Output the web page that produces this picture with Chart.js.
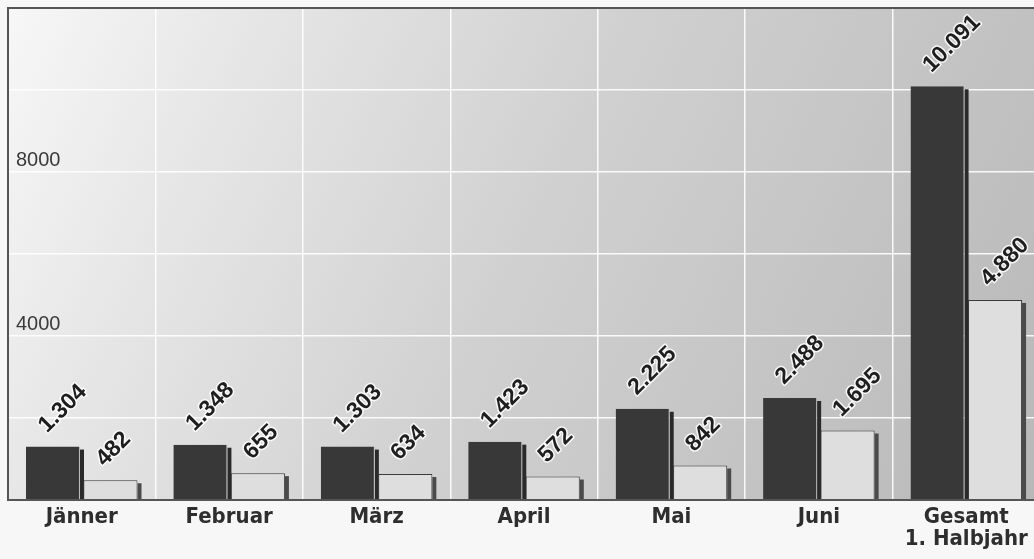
<!DOCTYPE html>
<html>
<head>
<meta charset="utf-8">
<script src="https://cdn.jsdelivr.net/npm/chart.js@4"></script>
<style>
  html, body { margin: 0; padding: 0; background: #f7f7f7; overflow: hidden; }
  #wrap { width: 1034px; height: 559px; overflow: hidden; }
</style>
</head>
<body>
<div id="wrap"><canvas id="grafik" width="1040" height="559"></canvas></div>
<script>
const monate = ['Jänner', 'Februar', 'März', 'April', 'Mai', 'Juni', ['Gesamt', '1. Halbjahr']];
const reiheDunkel = [1304, 1348, 1303, 1423, 2225, 2488, 10091];
const reiheHell = [482, 655, 634, 572, 842, 1695, 4880];
const yMax = 12000;
const ySchritt = 2000;
const yBeschriftet = [4000, 8000];

function tausender(v) { // 1304 -> 1.304
    return String(v).replace(/\B(?=(\d{3})+(?!\d))/g, '.');
}

const hintergrund = {
    id: 'hintergrund',
    beforeDraw(chart) {
        const { ctx, chartArea: a } = chart;
        const g = ctx.createLinearGradient(a.left, a.top, a.right, a.bottom);
        g.addColorStop(0, '#f7f7f7');
        g.addColorStop(0.2, '#e6e6e6');
        g.addColorStop(0.5, '#d0d0d0');
        g.addColorStop(1, '#b8b8b8');
        ctx.save();
        ctx.fillStyle = g;
        ctx.fillRect(a.left, a.top, a.right - a.left, a.bottom - a.top);
        ctx.restore();
    },
    beforeDatasetsDraw(chart) { // schatten rechts neben den balken
        const { ctx } = chart;
        ctx.save();
        chart.data.datasets.forEach((ds, i) => {
            chart.getDatasetMeta(i).data.forEach(bar => {
                const w = bar.width;
                ctx.fillStyle = i === 0 ? '#2a2a2a' : '#4a4a4a';
                ctx.fillRect(bar.x + w / 2, bar.y + 3, 4, bar.base - bar.y - 3);
            });
        });
        ctx.restore();
    },
    afterDatasetsDraw(chart) {
        const { ctx, chartArea: a } = chart;
        ctx.save();
        // rahmen oben, links, unten
        ctx.strokeStyle = '#555';
        ctx.lineWidth = 2;
        ctx.beginPath();
        ctx.moveTo(a.right, a.top);
        ctx.lineTo(a.left, a.top);
        ctx.lineTo(a.left, a.bottom);
        ctx.lineTo(a.right, a.bottom);
        ctx.stroke();
        // werte schräg über den balken
        ctx.font = 'bold 23px "Liberation Sans", Arial, sans-serif';
        ctx.textAlign = 'left';
        ctx.textBaseline = 'alphabetic';
        ctx.lineJoin = 'round';
        chart.data.datasets.forEach((ds, i) => {
            chart.getDatasetMeta(i).data.forEach((bar, j) => {
                const txt = tausender(ds.data[j]);
                ctx.save();
                ctx.translate(bar.x - 6, bar.y - 13);
                ctx.rotate(-Math.PI / 4);
                ctx.strokeStyle = 'rgba(255,255,255,0.85)';
                ctx.lineWidth = 3;
                ctx.strokeText(txt, 0, 0);
                ctx.fillStyle = '#1e1e1e';
                ctx.fillText(txt, 0, 0);
                ctx.restore();
            });
        });
        ctx.restore();
    }
};

const data = {
    labels: monate,
    datasets: [{
        data: reiheDunkel,
        backgroundColor: '#383838',
        borderColor: '#bdbdbd',
        borderWidth: { top: 0, left: 0, right: 1, bottom: 0 },
        borderSkipped: false,
        categoryPercentage: 0.78,
        barPercentage: 0.94
    }, {
        data: reiheHell,
        backgroundColor: '#dedede',
        borderColor: '#3a3a3a',
        borderWidth: { top: 1, left: 1, right: 1, bottom: 0 },
        borderSkipped: false,
        categoryPercentage: 0.78,
        barPercentage: 0.94
    }]
};

const options = {
    responsive: false,
    animation: false,
    layout: { padding: { left: 8, right: 0, top: 8, bottom: 0 } },
    plugins: { legend: { display: false }, tooltip: { enabled: false } },
    scales: {
        x: {
            grid: { color: 'rgba(255,255,255,0.9)', lineWidth: 1.5, drawTicks: false, offset: true },
            border: { display: false },
            ticks: {
                color: '#2e2e2e',
                padding: 6,
                font: { family: '"Liberation Sans Narrow", "DejaVu Sans Condensed", sans-serif', size: 22, weight: 'bold', lineHeight: 1.0 },
                maxRotation: 0,
                autoSkip: false
            },
            afterFit(scale) {
                scale.height = 59;
                scale.paddingLeft = 0;
                scale.paddingRight = 0;
            }
        },
        y: {
            min: 0,
            max: yMax,
            grid: { color: 'rgba(255,255,255,0.9)', lineWidth: 1.5, drawTicks: false },
            border: { display: false },
            ticks: {
                stepSize: ySchritt,
                mirror: true,
                padding: 8,
                labelOffset: -12,
                color: '#3a3a3a',
                font: { family: '"Liberation Sans Narrow", "Liberation Sans", sans-serif', size: 20 },
                callback: v => yBeschriftet.includes(v) ? String(v) : ''
            },
            afterFit(scale) {
                scale.width = 0;
                scale.paddingTop = 0;
                scale.paddingBottom = 0;
            }
        }
    }
};

const myChart = new Chart(document.getElementById('grafik').getContext('2d'), {
    type: 'bar',
    data,
    options,
    plugins: [hintergrund]
});
</script>
</body>
</html>
